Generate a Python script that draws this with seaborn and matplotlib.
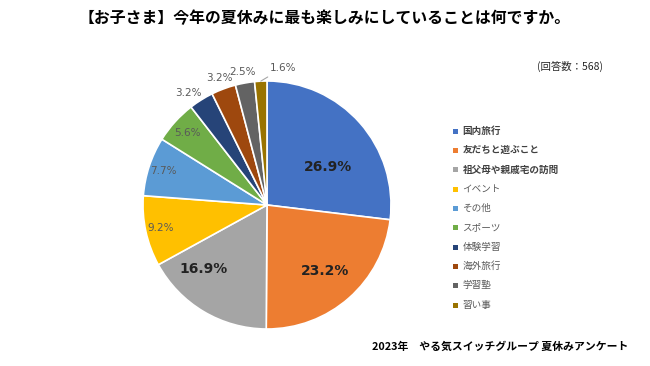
import numpy as np
import matplotlib
matplotlib.use("Agg")
import matplotlib.pyplot as plt
from matplotlib.patches import Rectangle
import seaborn as sns

categories = ["国内旅行", "友だちと遊ぶこと", "祖父母や親戚宅の訪問", "イベント", "その他",
              "スポーツ", "体験学習", "海外旅行", "学習塾", "習い事"]
values = [26.9, 23.2, 16.9, 9.2, 7.7, 5.6, 3.2, 3.2, 2.5, 1.6]
title = "【お子さま】今年の夏休みに最も楽しみにしていることは何ですか。"
note = "(回答数：568)"
footer = "2023年　やる気スイッチグループ 夏休みアンケート"

colors = ["#4472C4", "#ED7D31", "#A5A5A5", "#FFC000", "#5B9BD5",
          "#70AD47", "#264478", "#9E480E", "#636363", "#997300"]

sns.set_theme(style="white")
plt.rcParams['font.family'] = ['Noto Sans CJK JP', 'DejaVu Sans']

W, H = 650, 366
fig = plt.figure(figsize=(6.5, 3.66), dpi=100)
fig.patch.set_facecolor("white")

cx, cy, R = 267, 205, 124
ax = fig.add_axes([(cx - R) / W, (H - cy - R) / H, 2 * R / W, 2 * R / H])
wedges, _ = ax.pie(values, colors=colors, startangle=90, counterclock=False,
                   radius=1.0, wedgeprops=dict(edgecolor="white", linewidth=1.2))
ax.set_xlim(-1, 1)
ax.set_ylim(-1, 1)
ax.set_aspect("equal")
ax.axis("off")

# label placement: (radius, angle shift in degrees)
label_r = [0.58, 0.71, 0.73, 0.88, 0.88, 0.86, 1.10, 1.09, 1.09, 1.11]
label_shift = [-10, 0, -14, 0, 0, 0, 3, 0, 0, -8]
for i, (w, v) in enumerate(zip(wedges, values)):
    mid = np.deg2rad((w.theta1 + w.theta2) / 2 + label_shift[i])
    x, y = label_r[i] * np.cos(mid), label_r[i] * np.sin(mid)
    txt = f"{v:.1f}%"
    if i < 3:
        ax.text(x, y, txt, ha="center", va="center", fontsize=10, fontweight="bold",
                color="#222222", family="DejaVu Sans", clip_on=False)
    elif i == len(values) - 1:
        mid0 = np.deg2rad((w.theta1 + w.theta2) / 2)
        ax.annotate(txt, xy=(1.0 * np.cos(mid0), 1.0 * np.sin(mid0)),
                    xytext=(0.02, 1.105), ha="left", va="center", fontsize=7.5,
                    color="#595959", family="DejaVu Sans", annotation_clip=False,
                    arrowprops=dict(arrowstyle="-", color="#A6A6A6", lw=0.8,
                                    shrinkA=1, shrinkB=0))
    else:
        ax.text(x, y, txt, ha="center", va="center", fontsize=7.5,
                color="#595959", family="DejaVu Sans", clip_on=False)

# legend
ly0, dy = 131, 19.35
for i, (c, lab) in enumerate(zip(colors, categories)):
    y = ly0 + i * dy
    fig.add_artist(Rectangle(((453) / W, (H - y - 2.5) / H), 5 / W, 5 / H,
                             transform=fig.transFigure, color=c, lw=0))
    fig.text(462.5 / W, (H - y) / H, lab, ha="left", va="center", fontsize=6.9,
             color="#404040" if i < 3 else "#595959",
             fontweight="bold" if i < 3 else "normal")

fig.text(325 / W, (H - 18) / H, title, ha="center", va="center", fontsize=11.4,
         fontweight="bold", color="#000000")
fig.text(570.5 / W, (H - 66) / H, note, ha="center", va="center", fontsize=7.5, color="#262626")
fig.text(500 / W, (H - 347) / H, footer, ha="center", va="center", fontsize=7.8,
         fontweight="bold", color="#000000")

fig.savefig("out.png", dpi=100, facecolor="white")
